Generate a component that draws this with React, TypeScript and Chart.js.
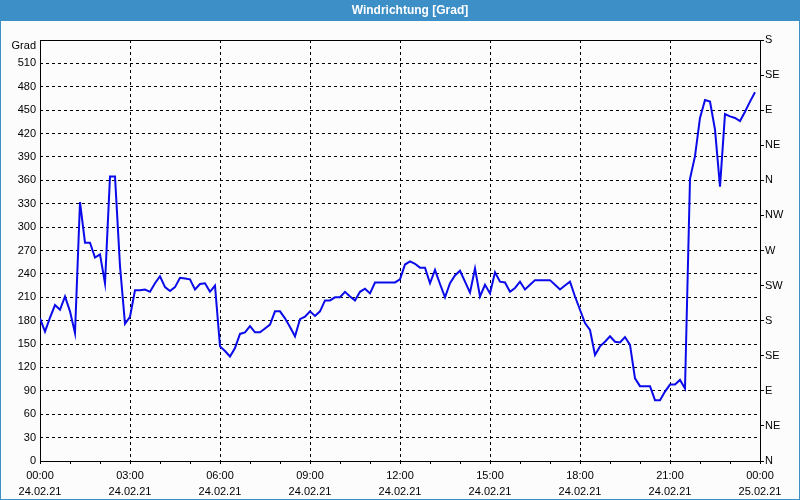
import React, { useEffect, useRef } from 'react';
import { Chart, registerables } from 'chart.js';

Chart.register(...registerables);

const TITLE = 'Windrichtung [Grad]';
const Y_UNIT = 'Grad';
const STEP_MINUTES = 10;

// wind direction in degrees, one reading every 10 minutes from 24.02.21 00:00
const directionValues = [
  183, 166, 184, 200, 194, 211, 192, 164, 332, 280,
  280, 261, 265, 228, 365, 365, 250, 176, 185, 219,
  219, 220, 217, 228, 237, 223, 218, 223, 235, 234,
  233, 220, 227, 228, 217, 225, 147, 141, 134, 145,
  163, 165, 173, 165, 165, 170, 175, 192, 192, 183,
  172, 160, 182, 185, 192, 186, 192, 206, 206, 210,
  210, 217, 211, 206, 217, 221, 215, 229, 229, 229,
  229, 229, 233, 252, 256, 253, 248, 248, 228, 245,
  227, 210, 228, 238, 244, 230, 216, 247, 211, 226,
  215, 242, 230, 229, 217, 222, 230, 220, 226, 232,
  232, 232, 232, 226, 220, 225, 230, 211, 194, 177,
  168, 136, 147, 153, 160, 153, 152, 159, 149, 106,
  96, 96, 96, 78, 78, 89, 98, 98, 104, 93,
  362, 391, 440, 463, 461, 425, 352, 445, 442, 440,
  436, 448, 461, 473,
];

const xTickTimes = ['00:00', '03:00', '06:00', '09:00', '12:00', '15:00', '18:00', '21:00', '00:00'];
const xTickDates = ['24.02.21', '24.02.21', '24.02.21', '24.02.21', '24.02.21', '24.02.21', '24.02.21', '24.02.21', '25.02.21'];
const compassLabels = ['N', 'NE', 'E', 'SE', 'S', 'SW', 'W', 'NW', 'N', 'NE', 'E', 'SE', 'S'];

const BLUE = '#3c8fc7';
const BG = '#fbfcfb';
const FONT = '"Liberation Sans", Arial, sans-serif';

export default function App() {
  const ref = useRef<HTMLCanvasElement>(null);

  useEffect(() => {
    const canvas = ref.current;
    if (!canvas) return;
    const points = directionValues.map((v, i) => ({ x: (i * STEP_MINUTES) / 60, y: v }));

    const deco = {
      id: 'deco',
      beforeDraw(chart: any) {
        const { ctx, width, height } = chart;
        ctx.save();
        ctx.fillStyle = BG;
        ctx.fillRect(0, 0, width, height);
        ctx.fillStyle = BLUE;
        ctx.fillRect(0, 0, width, 21);
        ctx.fillRect(0, 0, 1, height);
        ctx.fillRect(width - 1, 0, 1, height);
        ctx.fillRect(0, height - 1, width, 1);
        ctx.fillStyle = '#ffffff';
        ctx.font = 'bold 12px ' + FONT;
        ctx.textAlign = 'center';
        ctx.textBaseline = 'middle';
        ctx.fillText(TITLE, 410, 10.5);
        ctx.restore();
      },
      beforeDatasetsDraw(chart: any) {
        const { ctx, chartArea: a } = chart;
        ctx.save();
        ctx.setLineDash([]);
        ctx.strokeStyle = '#000';
        ctx.lineWidth = 1;
        ctx.strokeRect(a.left + 0.5, a.top + 0.5, a.right - a.left, a.bottom - a.top);
        ctx.fillStyle = '#000';
        ctx.font = '11px ' + FONT;
        ctx.textAlign = 'right';
        ctx.textBaseline = 'middle';
        ctx.fillText(Y_UNIT, a.left - 4, a.top + 6);
        ctx.restore();
      },
    };

    const chart = new Chart(canvas, {
      type: 'line',
      data: {
        datasets: [
          {
            data: points,
            borderColor: '#0a0aeb',
            borderWidth: 2,
            pointRadius: 0,
            tension: 0,
            fill: false,
            xAxisID: 'x',
            yAxisID: 'y',
          },
        ],
      },
      options: {
        responsive: false,
        devicePixelRatio: 1,
        animation: false,
        layout: { padding: { top: 40, left: 0, right: 0, bottom: 0 } },
        plugins: { legend: { display: false }, tooltip: { enabled: false }, title: { display: false } },
        scales: {
          x: {
            type: 'linear',
            min: 0,
            max: 24,
            afterFit: (s: any) => { s.height = 39; },
            border: { display: false, dash: [3, 3] },
            grid: {
              color: (c: any) => (c.tick && c.tick.value % 3 === 0 ? '#000' : 'rgba(0,0,0,0)'),
              tickColor: '#000',
              tickLength: 3,
              tickBorderDash: [],
              lineWidth: 1,
            },
            ticks: {
              stepSize: 1,
              autoSkip: false,
              maxRotation: 0,
              padding: 4,
              color: '#000',
              font: { family: FONT, size: 11, lineHeight: 1.45 },
              callback: (v: any) => (v % 3 === 0 ? [xTickTimes[v / 3], xTickDates[v / 3]] : ''),
            },
          },
          y: {
            type: 'linear',
            position: 'left',
            min: 0,
            max: 540,
            afterFit: (s: any) => { s.width = 40; },
            border: { display: false, dash: [3, 3] },
            grid: { color: '#000', drawTicks: false, lineWidth: 1 },
            ticks: {
              stepSize: 30,
              padding: 4,
              color: '#000',
              font: { family: FONT, size: 11 },
              callback: (v: any) => (v === 540 ? '' : String(v)),
            },
          },
          y2: {
            type: 'linear',
            position: 'right',
            min: 0,
            max: 540,
            afterFit: (s: any) => { s.width = 40; },
            border: { display: false },
            grid: { drawOnChartArea: false, drawTicks: true, tickLength: 4, tickColor: '#000', color: '#000' },
            ticks: {
              stepSize: 45,
              padding: 1,
              color: '#000',
              font: { family: FONT, size: 11 },
              callback: (v: any) => compassLabels[Math.round(v / 45)] ?? '',
            },
          },
        },
      },
      plugins: [deco],
    } as any);

    return () => chart.destroy();
  }, []);

  return (
    <div style={{ position: 'absolute', left: 0, top: 0, width: 800, height: 500 }}>
      <canvas ref={ref} width={800} height={500} style={{ display: 'block' }} />
    </div>
  );
}
